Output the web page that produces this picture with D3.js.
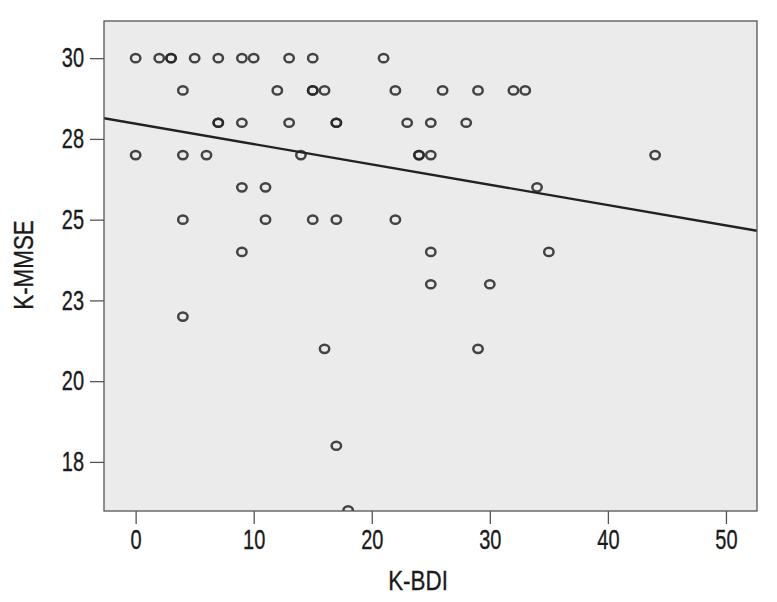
<!DOCTYPE html>
<html>
<head>
<meta charset="utf-8">
<script src="https://cdn.jsdelivr.net/npm/d3@7"></script>
<style>
  html, body { margin: 0; padding: 0; background: #fff; }
  svg text { font-family: "Liberation Sans", Arial, sans-serif; fill: #1a1a1a; stroke: #1a1a1a; stroke-width: 0.35px; }
</style>
</head>
<body>
<div id="chart"></div>
<script>
// K-BDI (x) vs K-MMSE (y), one entry per subject
var kbdi = [0, 2, 3, 3, 5, 7, 9, 10, 13, 15, 21,
            4, 12, 15, 15, 16, 22, 26, 29, 32, 33,
            7, 7, 9, 13, 17, 17, 23, 25, 28,
            0, 4, 6, 14, 24, 24, 25, 44,
            9, 11, 34,
            4, 11, 15, 17, 22,
            9, 25, 35,
            25, 30,
            4,
            16, 29,
            17,
            18];
var kmmse = [30, 30, 30, 30, 30, 30, 30, 30, 30, 30, 30,
             29, 29, 29, 29, 29, 29, 29, 29, 29, 29,
             28, 28, 28, 28, 28, 28, 28, 28, 28,
             27, 27, 27, 27, 27, 27, 27, 27,
             26, 26, 26,
             25, 25, 25, 25, 25,
             24, 24, 24,
             23, 23,
             22,
             21, 21,
             18,
             16];

var xTicks = [0, 10, 20, 30, 40, 50];
var yTicks = [30, 27.5, 25, 22.5, 20, 17.5];
var yTickLabels = ["30", "28", "25", "23", "20", "18"];

// linear fit line as shown in the figure
var fitIntercept = 27.97;
var fitSlope = -0.063;

var width = 777, height = 602;
var margin = {top: 21, right: 20, bottom: 91, left: 104};
var squeeze = 0.74; // condensed look for the labels

var svg = d3.select('#chart')
  .append('svg')
  .attr('width', width)
  .attr('height', height);

var x = d3.scaleLinear()
  .domain([-2.68, 52.63])
  .range([margin.left, width - margin.right]);

var y = d3.scaleLinear()
  .domain([15.98, 31.15])
  .range([height - margin.bottom, margin.top]);

svg.append('defs').append('clipPath')
  .attr('id', 'plotClip')
  .append('rect')
  .attr('x', margin.left)
  .attr('y', margin.top)
  .attr('width', width - margin.left - margin.right)
  .attr('height', height - margin.top - margin.bottom);

// panel
svg.append('rect')
  .attr('x', margin.left)
  .attr('y', margin.top)
  .attr('width', width - margin.left - margin.right)
  .attr('height', height - margin.top - margin.bottom)
  .attr('fill', '#ebebeb');

var plot = svg.append('g').attr('clip-path', 'url(#plotClip)');

plot.selectAll('ellipse')
  .data(kbdi)
  .enter()
  .append('ellipse')
  .attr('cx', function (d) { return x(d); })
  .attr('cy', function (d, i) { return y(kmmse[i]); })
  .attr('rx', 4.7)
  .attr('ry', 4.1)
  .attr('fill', 'none')
  .attr('stroke', '#262626')
  .attr('stroke-opacity', 0.85)
  .attr('stroke-width', 2.5);

var xd = x.domain();
plot.append('line')
  .attr('x1', x(xd[0]))
  .attr('y1', y(fitIntercept + fitSlope * xd[0]))
  .attr('x2', x(xd[1]))
  .attr('y2', y(fitIntercept + fitSlope * xd[1]))
  .attr('stroke', '#222')
  .attr('stroke-width', 2.4);

// frame
svg.append('rect')
  .attr('x', margin.left)
  .attr('y', margin.top)
  .attr('width', width - margin.left - margin.right)
  .attr('height', height - margin.top - margin.bottom)
  .attr('fill', 'none')
  .attr('stroke', '#555')
  .attr('stroke-width', 1.3);

var xAxis = svg.append('g')
  .attr('transform', 'translate(0,' + (height - margin.bottom) + ')')
  .call(d3.axisBottom(x).tickValues(xTicks).tickSize(13).tickPadding(6).tickFormat(d3.format('d')));

var yAxis = svg.append('g')
  .attr('transform', 'translate(' + margin.left + ',0)')
  .call(d3.axisLeft(y).tickValues(yTicks).tickSize(14).tickPadding(6)
    .tickFormat(function (d, i) { return yTickLabels[i]; }));

[xAxis, yAxis].forEach(function (g) {
  g.select('.domain').remove();
  g.selectAll('.tick line').attr('stroke', '#555').attr('stroke-width', 1.3);
  g.selectAll('.tick text')
    .attr('font-size', 27)
    .attr('fill', '#1a1a1a')
    .attr('x', function () { return (+d3.select(this).attr('x') || 0) / squeeze; })
    .attr('transform', 'scale(' + squeeze + ',1)');
});

svg.append('text')
  .attr('transform', 'translate(418,590) scale(0.8,1)')
  .attr('text-anchor', 'middle')
  .attr('font-size', 28)
  .text('K-BDI');

svg.append('text')
  .attr('transform', 'translate(33,265) rotate(-90) scale(0.8,1)')
  .attr('text-anchor', 'middle')
  .attr('font-size', 28)
  .text('K-MMSE');
</script>
</body>
</html>
